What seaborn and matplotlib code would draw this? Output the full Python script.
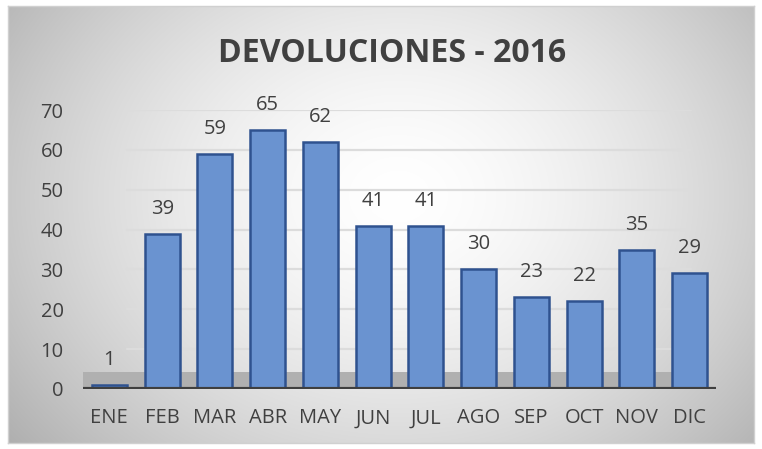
import numpy as np
import pandas as pd
import seaborn as sns
import matplotlib.pyplot as plt

meses = ['ENE', 'FEB', 'MAR', 'ABR', 'MAY', 'JUN', 'JUL', 'AGO', 'SEP', 'OCT', 'NOV', 'DIC']
devoluciones = [1, 39, 59, 65, 62, 41, 41, 30, 23, 22, 35, 29]
yticks = [0, 10, 20, 30, 40, 50, 60, 70]

df = pd.DataFrame({'mes': meses, 'valor': devoluciones})

sns.set_theme(style='white')
plt.rcParams['font.family'] = ['Open Sans', 'DejaVu Sans']

fig = plt.figure(figsize=(7.62, 4.49), dpi=100)
fig.patch.set_facecolor('white')

# fondo con degradado radial
bg = fig.add_axes([8 / 762, 6 / 449, 746 / 762, 437 / 449])
h, w = 437, 746
yy, xx = np.mgrid[0:h, 0:w]
r = np.sqrt(((xx - 390) / 520) ** 2 + ((yy - 190) / 420) ** 2)
shade = np.clip(1.0 - 0.34 * r ** 1.6, 0, 1)
img = np.dstack([shade, shade, shade])
bg.imshow(img, aspect='auto', extent=[0, 1, 0, 1])
bg.set_xlim(0, 1)
bg.set_ylim(0, 1)
bg.set_xticks([])
bg.set_yticks([])
for s in bg.spines.values():
    s.set_color('#d0d0d0')
    s.set_linewidth(1)

ax = fig.add_axes([83 / 762, 60 / 449, 633 / 762, 279 / 449])
ax.patch.set_alpha(0)

for t in yticks[1:]:
    ax.axhline(t, color='#dcdcdc', lw=1.6, zorder=0.5, xmin=0.07, xmax=0.96)

# suelo gris
ax.axhspan(0, 4.3, xmin=0.0, xmax=0.985, color='#b0b0b0', zorder=0.8, lw=0)

sns.barplot(data=df, x='mes', y='valor', ax=ax, color='#6a93d0', width=0.66,
            edgecolor='#2f528f', linewidth=1.8, saturation=1, zorder=2)

ax.axhline(0, color='#3f3f3f', lw=3, zorder=3)

for i, v in enumerate(devoluciones):
    ax.annotate(str(v), (i, v), xytext=(0, 18), textcoords='offset points',
                ha='center', va='center', fontsize=14.5, color='#404040',
                annotation_clip=False)

ax.set_xlim(-0.5, 11.5)
ax.set_ylim(0, 70)
ax.set_yticks(yticks)
ax.set_xlabel('')
ax.set_ylabel('')
ax.tick_params(axis='y', length=0, pad=14, labelsize=14.5, labelcolor='#404040')
ax.tick_params(axis='x', length=0, pad=14, labelsize=14.5, labelcolor='#404040')
sns.despine(ax=ax, left=True, bottom=True)

fig.text(0.515, 0.88, 'DEVOLUCIONES - 2016', ha='center', va='center',
         fontsize=23, fontweight='bold', color='#404040')

fig.savefig('out.png', dpi=100)
